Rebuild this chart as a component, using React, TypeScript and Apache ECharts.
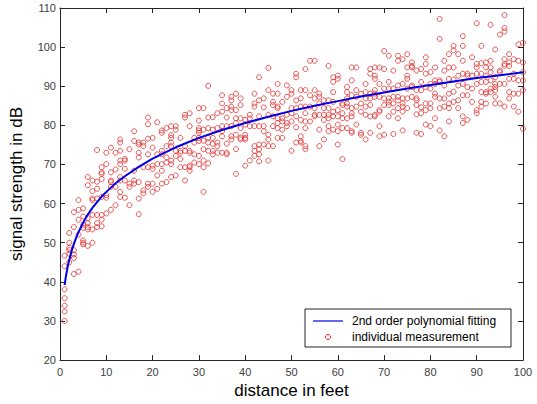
import { useEffect, useRef } from "react";
import * as echarts from "echarts";

// Tick values of both axes
const xTickValues = [0, 10, 20, 30, 40, 50, 60, 70, 80, 90, 100];
const yTickValues = [20, 30, 40, 50, 60, 70, 80, 90, 100, 110];

// Fitted curve
const fitDistance = [1, 1.25, 1.5, 1.75, 2, 2.5, 3, 3.5, 4, 5, 6, 7, 8, 9, 10, 12, 14, 17, 20, 25, 30, 35, 40, 45, 50, 55, 60, 65, 70, 75, 80, 85, 90, 95, 100];
const fitSignal = [39.2, 41.2, 42.9, 44.4, 45.6, 47.9, 49.7, 51.3, 52.7, 55.1, 57.2, 58.9, 60.4, 61.8, 63.0, 65.2, 67.0, 69.4, 71.5, 74.4, 76.8, 78.8, 80.6, 82.2, 83.7, 85.0, 86.2, 87.4, 88.4, 89.4, 90.3, 91.2, 92.1, 92.8, 93.6];

// Individual measurements: [distance, [signal values...]]
const measurementsA: [number, number[]][] = [
  [1, [30.0, 32.4, 33.9, 35.8, 38.1, 44.0, 46.7]],
  [2, [48.7, 48.1, 47.2, 50.0, 52.5, 45.0]],
  [3, [48.1, 47.0, 46.1, 42.0, 54.0, 57.8]],
  [4, [42.6, 52.1, 55.9, 58.4, 60.9]],
  [5, [58.8, 56.7, 54.6, 53.8, 50.6, 50.0, 49.6]],
  [6, [49.2, 54.0, 53.4, 56.3, 55.0, 64.7, 66.8]],
  [7, [50.0, 53.4, 57.1, 60.9, 61.3, 63.2, 65.9]],
  [8, [54.0, 55.0, 57.1, 61.3, 63.8, 65.6, 73.7]],
  [9, [54.2, 55.9, 57.1, 61.7, 66.3, 69.3, 68.0, 67.6]],
  [10, [57.5, 70.1, 73.0, 62.2, 61.5]],
  [11, [58.4, 74.3, 65.5, 64.3, 68.0, 65.9]],
  [12, [73.0, 68.7, 64.3, 59.6]],
  [13, [76.4, 75.6, 73.5, 71.0, 70.1, 66.8, 65.9, 63.0, 61.7]],
  [14, [71.4, 71.0, 68.9, 65.9, 61.5]],
  [15, [73.9, 65.1, 64.3, 59.6]],
  [16, [78.5, 76.0, 68.4, 65.9, 65.1]],
  [17, [75.6, 75.1, 73.0, 71.8, 65.5, 61.3, 57.3]],
];

const measurementsB: [number, number[]][] = [
  [18, [75.6, 74.7, 69.3, 63.4, 62.6]],
  [19, [82.0, 80.3, 76.6, 72.6, 69.3, 65.1, 64.3]],
  [20, [76.8, 74.3, 69.7, 68.9, 65.1, 63.0]],
  [21, [80.8, 72.6, 70.1, 67.2, 63.8]],
  [22, [78.7, 78.1, 73.5, 72.6, 70.1, 68.4, 65.1]],
  [23, [79.3, 74.7, 71.8, 70.5, 65.5]],
  [24, [79.8, 77.5, 76.8, 75.6, 74.7, 71.0, 70.1, 66.8]],
  [25, [79.8, 78.9, 73.5, 72.2, 67.2]],
  [26, [76.8, 73.5, 73.0, 71.4, 69.3]],
  [27, [82.7, 82.0, 74.7, 73.5, 69.3, 65.9]],
  [28, [83.1, 79.8, 73.5, 73.0, 69.7, 69.3, 68.4]],
  [29, [76.8, 75.6, 72.6, 70.5]],
  [30, [84.4, 81.2, 79.3, 78.7, 78.1, 76.8, 76.0, 72.2, 70.1]],
  [31, [84.4, 78.9, 76.1, 73.9, 71.0, 69.3, 63.0]],
  [32, [90.1, 82.0, 79.3, 76.8, 75.6, 73.5, 70.3]],
  [33, [82.1, 78.9, 76.8, 75.3, 73.5, 72.6]],
  [34, [83.1, 79.3, 75.6, 74.7, 73.0]],
];

const measurementsC: [number, number[]][] = [
  [35, [87.7, 85.6, 83.5, 79.8, 78.5, 77.2, 73.0]],
  [36, [84.4, 82.0, 79.8, 75.3, 73.0, 72.6]],
  [37, [87.3, 86.4, 84.8, 83.9, 79.8, 77.2, 76.4]],
  [38, [88.1, 83.9, 81.8, 80.6, 77.6, 73.9, 67.6]],
  [39, [86.9, 85.2, 81.8, 79.3, 76.8, 76.4]],
  [40, [81.4, 80.2, 77.6, 76.8, 76.4, 69.7]],
  [41, [82.7, 81.8, 79.8, 71.0]],
  [42, [88.1, 85.6, 84.8, 79.8, 74.7, 73.5, 72.2]],
  [43, [92.3, 86.4, 82.3, 79.8, 75.1, 73.9, 72.6, 70.8]],
  [44, [86.9, 84.6, 79.8, 78.5, 75.1]],
  [45, [94.7, 89.0, 82.7, 77.6, 76.4, 74.7, 71.0]],
  [46, [88.1, 86.0, 85.2, 82.3, 79.8, 74.7]],
  [47, [90.6, 88.1, 84.8, 84.4, 81.8, 80.6, 79.3, 76.8]],
  [48, [86.0, 81.8, 81.0, 78.9, 76.8]],
  [49, [90.2, 87.3, 82.7, 80.6, 79.8]],
  [50, [89.0, 88.1, 84.4, 83.1, 81.0, 73.5]],
];

const measurementsD: [number, number[]][] = [
  [51, [93.2, 92.3, 86.4, 84.4, 82.3, 79.5, 75.6]],
  [52, [89.0, 86.9, 84.8, 81.4, 77.2, 76.0, 75.6]],
  [53, [94.4, 89.0, 84.8, 83.1, 81.0, 79.3, 74.7, 73.9]],
  [54, [96.5, 87.7, 84.8, 81.0]],
  [55, [96.5, 89.0, 86.9, 84.4, 82.7, 82.3]],
  [56, [88.1, 87.3, 85.6, 82.7, 78.9, 74.7]],
  [57, [86.4, 84.4, 82.7, 81.4, 76.4]],
  [58, [95.2, 86.4, 84.4, 82.7, 81.8, 79.8, 78.5]],
  [59, [92.3, 91.1, 88.5, 86.0, 83.5, 82.3, 78.9]],
  [60, [92.7, 91.9, 83.9, 82.3, 80.2, 78.5, 75.1]],
  [61, [85.6, 85.2, 83.1, 81.8, 79.3, 71.4]],
  [62, [89.8, 88.5, 86.9, 85.6, 84.8, 81.8, 79.3]],
  [63, [94.8, 91.5, 87.7, 84.4, 83.1, 82.3, 78.5, 78.1]],
  [64, [94.8, 89.0, 87.3, 84.8, 80.2]],
  [65, [88.1, 85.6, 83.5, 78.1, 77.6]],
  [66, [90.6, 88.5, 86.9, 84.8, 82.7, 76.4]],
  [67, [94.4, 93.2, 88.1, 86.9, 85.2, 82.3, 78.1]],
];

const measurementsE: [number, number[]][] = [
  [68, [94.8, 92.7, 91.9, 89.0, 88.1, 87.3, 82.7, 82.3]],
  [69, [94.8, 90.6, 87.3, 83.9, 83.5, 79.8, 77.2]],
  [70, [99.0, 94.4, 89.4, 86.9, 85.2, 77.6]],
  [71, [97.8, 91.1, 89.4, 86.9, 86.0, 85.2, 82.3]],
  [72, [94.0, 89.4, 87.3, 85.6, 83.5, 77.8]],
  [73, [97.8, 96.5, 90.2, 87.3, 86.4, 84.4, 81.8]],
  [74, [96.9, 90.6, 86.9, 85.6, 84.8, 83.5, 78.7]],
  [75, [98.2, 94.8, 92.7, 91.9, 89.4, 86.9, 84.4]],
  [76, [96.1, 95.2, 94.8, 90.2, 89.8, 87.3]],
  [77, [94.0, 89.0, 86.9, 86.4, 85.2, 82.8, 78.1]],
  [78, [94.4, 91.1, 89.0, 84.6, 83.1, 77.8]],
  [79, [97.4, 95.7, 93.2, 89.8, 85.6, 83.9, 80.2]],
  [80, [93.6, 90.6, 89.4, 85.6, 84.4, 79.8]],
  [81, [94.8, 91.5, 90.6, 88.1, 87.3, 81.8]],
  [82, [107.2, 102.1, 91.5, 91.1, 86.9, 84.4, 78.7]],
  [83, [96.5, 94.0, 90.2, 86.9, 84.8, 77.2]],
  [84, [98.2, 94.8, 91.9, 88.1, 85.6, 84.4, 81.0]],
];

const measurementsF: [number, number[]][] = [
  [85, [100.3, 99.2, 94.8, 91.7, 88.6, 86.0]],
  [86, [98.2, 92.7, 90.2, 86.4, 84.4]],
  [87, [102.8, 100.3, 96.5, 93.2, 90.6, 87.7, 82.3, 80.6]],
  [88, [93.2, 92.7, 89.8, 87.7, 81.4]],
  [89, [97.4, 92.7, 89.4, 86.0]],
  [90, [106.1, 95.7, 94.8, 93.2, 90.6, 83.9, 83.1]],
  [91, [100.3, 95.9, 93.2, 91.1, 88.5, 86.0, 84.8]],
  [92, [96.1, 94.8, 92.7, 91.1, 88.5, 88.1, 85.6]],
  [93, [105.7, 96.5, 94.8, 93.6, 91.5, 89.4, 88.5]],
  [94, [99.4, 92.3, 90.6, 89.8, 89.0, 87.3, 85.6]],
  [95, [103.2, 94.0, 93.6, 90.6, 85.6]],
  [96, [108.2, 104.9, 104.0, 96.9, 95.7, 95.2, 90.6, 84.8]],
  [97, [98.2, 96.1, 95.2, 91.9, 88.5, 86.9]],
  [98, [96.9, 93.2, 91.9, 88.1, 84.8]],
  [99, [100.7, 96.5, 91.5, 88.1, 83.5]],
  [100, [101.1, 96.1, 93.6, 91.5, 89.0, 79.1]],
];

const seriesNames = ["2nd order polynomial fitting", "individual measurement"];
const axisTitles = { x: "distance in feet", y: "signal strength in dB" };

const FONT = "Arial, 'Liberation Sans', Helvetica, sans-serif";

export default function App() {
  const ref = useRef<HTMLDivElement>(null);

  useEffect(() => {
    if (!ref.current) return;
    const chart = echarts.init(ref.current, null, { renderer: "svg" });

    const groups = [measurementsA, measurementsB, measurementsC, measurementsD, measurementsE, measurementsF];
    const scatterData: number[][] = [];
    groups.forEach((g) => g.forEach(([d, vals]) => vals.forEach((v) => scatterData.push([d, v]))));
    const lineData = fitDistance.map((d, i) => [d, fitSignal[i]]);

    const axisLine = { show: true, onZero: false, lineStyle: { color: "#262626", width: 1 } };
    const axisTick = { show: true, inside: true, length: 5, lineStyle: { color: "#262626", width: 1 } };
    const labelStyle = { color: "#404040", fontSize: 11, fontFamily: FONT };

    const xMin = xTickValues[0];
    const xMax = xTickValues[xTickValues.length - 1];
    const yMin = yTickValues[0];
    const yMax = yTickValues[yTickValues.length - 1];

    const legendX = 305;
    const legendY = 309;

    chart.setOption({
      animation: false,
      backgroundColor: "#ffffff",
      grid: { left: 55, top: 8, width: 468, height: 358, containLabel: false },
      xAxis: [
        {
          type: "value", min: xMin, max: xMax, interval: 10, position: "bottom",
          axisLine, axisTick, splitLine: { show: false },
          axisLabel: { ...labelStyle, margin: 6 },
          name: axisTitles.x, nameLocation: "middle", nameGap: 20,
          nameTextStyle: { fontSize: 17, color: "#000", fontFamily: FONT },
        },
        {
          type: "value", min: xMin, max: xMax, interval: 10, position: "top",
          axisLine, axisTick, splitLine: { show: false }, axisLabel: { show: false },
        },
      ],
      yAxis: [
        {
          type: "value", min: yMin, max: yMax, interval: 10, position: "left",
          axisLine, axisTick, splitLine: { show: false },
          axisLabel: { ...labelStyle, margin: 4 },
          name: axisTitles.y, nameLocation: "middle", nameGap: 35, nameRotate: 90,
          nameTextStyle: { fontSize: 17, color: "#000", fontFamily: FONT },
        },
        {
          type: "value", min: yMin, max: yMax, interval: 10, position: "right",
          axisLine, axisTick, splitLine: { show: false }, axisLabel: { show: false },
        },
      ],
      series: [
        {
          name: seriesNames[1],
          type: "scatter",
          data: scatterData,
          symbol: "circle",
          symbolSize: 5,
          itemStyle: { color: "transparent", borderColor: "#e03030", borderWidth: 1 },
          z: 2,
        },
        {
          name: seriesNames[0],
          type: "line",
          data: lineData,
          showSymbol: false,
          smooth: false,
          lineStyle: { color: "#0000e6", width: 2 },
          z: 3,
        },
      ],
      graphic: [
        {
          type: "rect",
          shape: { x: legendX, y: legendY, width: 206, height: 38 },
          style: { fill: "#ffffff", stroke: "#262626", lineWidth: 1 },
          z: 10,
        },
        {
          type: "line",
          shape: { x1: legendX + 8, y1: legendY + 12, x2: legendX + 38, y2: legendY + 12 },
          style: { stroke: "#0000e6", lineWidth: 1.2 },
          z: 11,
        },
        {
          type: "text",
          x: legendX + 47, y: legendY + 12,
          style: { text: seriesNames[0], fontSize: 12, fontFamily: FONT, fill: "#000", verticalAlign: "middle" },
          z: 11,
        },
        {
          type: "circle",
          shape: { cx: legendX + 23, cy: legendY + 28, r: 2.5 },
          style: { fill: "none", stroke: "#e03030", lineWidth: 1 },
          z: 11,
        },
        {
          type: "text",
          x: legendX + 47, y: legendY + 28,
          style: { text: seriesNames[1], fontSize: 12, fontFamily: FONT, fill: "#000", verticalAlign: "middle" },
          z: 11,
        },
      ],
    });

    return () => chart.dispose();
  }, []);

  return <div ref={ref} style={{ position: "absolute", left: 0, top: 0, width: 537, height: 404 }} />;
}
